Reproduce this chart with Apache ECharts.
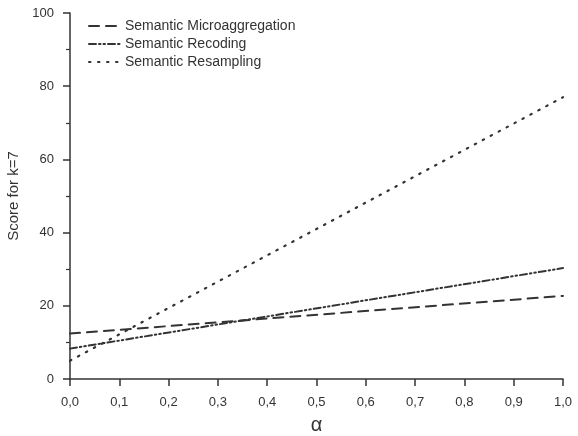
<!DOCTYPE html>
<html>
<head>
<meta charset="utf-8">
<script src="https://cdn.jsdelivr.net/npm/echarts@6/dist/echarts.min.js"></script>
<style>html,body{margin:0;padding:0;background:#fff}#c{width:578px;height:436px}</style>
</head>
<body>
<div id="c"></div>
<script>
// Score versus alpha for three semantic anonymisation methods (k = 7)
const alphaPoints = [0.0, 1.0];
const microaggregation = [12.4, 22.7];
const recoding = [8.3, 30.3];
const resampling = [5.0, 77.0];
const seriesNames = ['Semantic Microaggregation', 'Semantic Recoding', 'Semantic Resampling'];
const xTickLabels = ['0,0','0,1','0,2','0,3','0,4','0,5','0,6','0,7','0,8','0,9','1,0'];

const pairs = arr => alphaPoints.map((a, i) => [a, arr[i]]);
const ink = '#333333';
const font = 'Liberation Sans, Arial, sans-serif';

function lineSeries(name, values, dash, width) {
  return {
    name, type: 'line', data: pairs(values), symbol: 'none', silent: true,
    lineStyle: { color: ink, width: width, type: dash, cap: 'round' },
    itemStyle: { color: ink }
  };
}

const chart = echarts.init(document.getElementById('c'), null, { renderer: 'canvas' });
chart.setOption({
  animation: false,
  backgroundColor: '#fff',
  textStyle: { fontFamily: font },
  grid: { left: 70, right: 15, top: 13, bottom: 57, outerBoundsMode: 'none', containLabel: false },
  legend: {
    left: 88, top: 19, padding: 0, orient: 'vertical', itemWidth: 31, itemHeight: 14, itemGap: 4,
    itemStyle: { opacity: 0 },
    textStyle: { color: '#333', fontSize: 14, fontFamily: font },
    data: seriesNames
  },
  xAxis: {
    type: 'value', min: 0, max: 1, interval: 0.1,
    name: 'α', nameLocation: 'middle', nameGap: 36,
    nameTextStyle: { fontSize: 20, color: '#333', fontFamily: font },
    axisLine: { show: true, onZero: false, lineStyle: { color: ink, width: 1.5 } },
    axisTick: { show: true, length: 7, lineStyle: { color: ink, width: 1.5 } },
    axisLabel: { color: '#333', fontSize: 13, margin: 17, formatter: (v) => xTickLabels[Math.round(v * 10)] },
    splitLine: { show: false }
  },
  yAxis: {
    type: 'value', min: 0, max: 100, interval: 20,
    name: 'Score for k=7', nameLocation: 'middle', nameGap: 41, nameRotate: 90,
    nameTextStyle: { fontSize: 15, color: '#333', fontFamily: font },
    axisLine: { show: true, lineStyle: { color: ink, width: 1.5 } },
    axisTick: { show: true, length: 7, lineStyle: { color: ink, width: 1.5 } },
    minorTick: { show: true, splitNumber: 2, length: 4, lineStyle: { color: ink, width: 1.2 } },
    axisLabel: { color: '#333', fontSize: 13, margin: 16 },
    splitLine: { show: false }
  },
  series: [
    lineSeries(seriesNames[0], microaggregation, [10, 7], 2),
    lineSeries(seriesNames[1], recoding, [7, 3, 1.5, 3, 1.5, 3], 2),
    lineSeries(seriesNames[2], resampling, [1.5, 7.5], 2.2)
  ]
});
</script>
</body>
</html>
